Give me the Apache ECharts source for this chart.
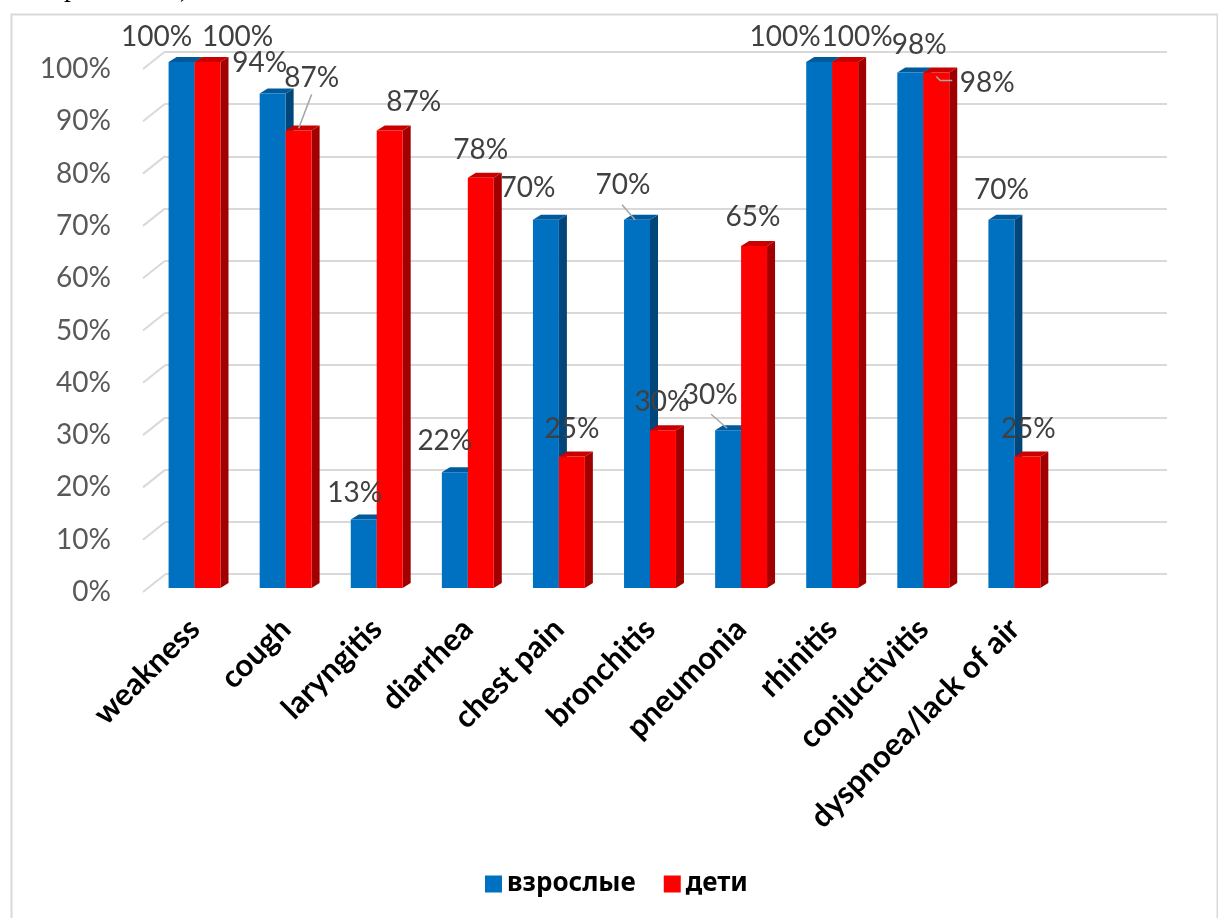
<!DOCTYPE html>
<html><head><meta charset="utf-8">
<script src="https://cdn.jsdelivr.net/npm/echarts@6/dist/echarts.min.js"></script>
<style>html,body{margin:0;padding:0;background:#fff}#c{width:1218px;height:918px}</style>
</head><body><div id="c"></div>
<script>
// ---- data ----
const categories = ['weakness','cough','laryngitis','diarrhea','chest pain','bronchitis','pneumonia','rhinitis','conjuctivitis','dyspnoea/lack of air'];
const adults   = [1.00, 0.94, 0.13, 0.22, 0.70, 0.70, 0.30, 1.00, 0.98, 0.70];
const children = [1.00, 0.87, 0.87, 0.78, 0.25, 0.30, 0.65, 1.00, 0.98, 0.25];
const seriesNames = ['взрослые', 'дети'];
const yTicks = [0, 0.1, 0.2, 0.3, 0.4, 0.5, 0.6, 0.7, 0.8, 0.9, 1.0];

// ---- label placement (style, relative to bar top centre) ----
const adultLabelNudge = [[-25,-25],[-13,-31],[-9,-27],[-10,-31],[-18,-32],[-14,-35],[-18,-35],[-34,-25],[9,-28],[0,-30]];
const childLabelNudge = [[30,-25],[13,-52],[24,-28],[0,-28],[0,-28],[-1,-28],[-1,-29],[12,-25],[51,10],[1,-28]];
const adultLeaders = {5: [[-15,-15],[-2,0]], 6: [[-17,-16],[-1,-2]]};
const childLeaders = {1: [[13,-36],[0,-2]], 8: [[0,4],[4,8],[16,8]]};

const faces = [
  {front:'#0070C0', side:'#00467a', top:'#005a9c'},
  {front:'#FF0000', side:'#a00000', top:'#c80000'}
];
const pct = v => Math.round(v * 100) + '%';
const labelFont = '28px Lato, "Noto Sans", sans-serif';

function barGeom(s, api) {
  const i = api.value(0), v = api.value(1);
  const base = api.coord([i, 0]);
  const top = api.coord([i, v]);
  const band = api.size([1, 0])[0];
  const w = band * 0.285;
  const x0 = s === 0 ? base[0] - w : base[0];
  return {x0: x0, x1: x0 + w, cx: x0 + w / 2, yT: top[1], yB: base[1]};
}

function barRenderer(s) {
  const f = faces[s];
  return function (params, api) {
    const g = barGeom(s, api);
    const dx = 8, dy = -5;
    return {type: 'group', children: [
      {type: 'polygon', shape: {points: [[g.x1, g.yB], [g.x1 + dx, g.yB + dy], [g.x1 + dx, g.yT + dy], [g.x1, g.yT]]}, style: {fill: f.side}},
      {type: 'polygon', shape: {points: [[g.x0, g.yT], [g.x0 + dx, g.yT + dy], [g.x1 + dx, g.yT + dy], [g.x1, g.yT]]}, style: {fill: f.top}},
      {type: 'rect', shape: {x: g.x0, y: g.yT, width: g.x1 - g.x0, height: g.yB - g.yT}, style: {fill: f.front}}
    ]};
  };
}

function labelRenderer(s, nudges, leaders) {
  return function (params, api) {
    const g = barGeom(s, api);
    const i = params.dataIndex;
    const n = nudges[i];
    const kids = [{
      type: 'text', x: g.cx + n[0], y: g.yT + n[1],
      style: {text: pct(api.value(1)), font: labelFont, fill: '#404040', textAlign: 'center', textVerticalAlign: 'middle'}
    }];
    if (leaders[i]) {
      kids.push({type: 'polyline', shape: {points: leaders[i].map(p => [g.cx + p[0], g.yT + p[1]])}, style: {stroke: '#a6a6a6', lineWidth: 1.5, fill: null}});
    }
    return {type: 'group', children: kids};
  };
}

const chart = echarts.init(document.getElementById('c'), null, {renderer: 'canvas'});
const catData = categories.concat(['']);
const yBase = {type: 'value', min: 0, max: 1, interval: 0.1};

chart.setOption({
  animation: false,
  backgroundColor: '#ffffff',
  color: ['#0070C0', '#FF0000'],
  graphic: [
    {type: 'rect', left: 9, top: 12, shape: {width: 1206, height: 920}, style: {fill: null, stroke: '#d9d9d9', lineWidth: 2}, z: 0},
    {type: 'text', left: 50, top: -25, style: {text: ', р', font: '28px "Liberation Serif", serif', fill: '#000'}},
    {type: 'text', left: 180, top: -25, style: {text: '),', font: '28px "Liberation Serif", serif', fill: '#000'}}
  ],
  legend: {
    data: seriesNames, left: 480, top: 866, icon: 'rect', itemWidth: 17, itemHeight: 17, itemGap: 28,
    textStyle: {fontSize: 26, fontWeight: 'bold', color: '#000', fontFamily: '"Noto Sans", Lato, sans-serif'}
  },
  grid: [
    {left: 165, right: 51, top: 52, bottom: 344},
    {left: 143, right: 51, top: 69, bottom: 326},
    {left: 149, right: 67, top: 62, bottom: 330}
  ],
  xAxis: [
    {type: 'value', gridIndex: 0, min: 0, max: 1, show: false},
    {type: 'value', gridIndex: 1, min: 0, max: 1, show: false},
    {type: 'category', gridIndex: 2, data: catData,
      axisLine: {show: false}, axisTick: {show: false},
      axisLabel: {interval: 0, rotate: 45, margin: 36, fontSize: 31, fontWeight: 'bold', color: '#000', fontFamily: 'Lato, "Noto Sans", sans-serif'}}
  ],
  yAxis: [
    Object.assign({gridIndex: 0, axisLabel: {show: false}, axisLine: {show: false}, axisTick: {show: false},
      splitLine: {show: true, lineStyle: {color: '#d9d9d9', width: 2}}}, yBase),
    Object.assign({gridIndex: 1, axisLine: {show: false}, axisTick: {show: false}, splitLine: {show: false},
      axisLabel: {formatter: pct, margin: 32, fontSize: 28, color: '#595959', fontFamily: 'Lato, "Noto Sans", sans-serif'}}, yBase),
    Object.assign({gridIndex: 2, show: false, splitLine: {show: false}}, yBase)
  ],
  series: [
    {type: 'custom', name: 'diag', xAxisIndex: 1, yAxisIndex: 1, z: 1, silent: true,
      data: yTicks.map(v => [0, v]),
      renderItem: function (params, api) {
        const p = api.coord([0, api.value(1)]);
        return {type: 'line', shape: {x1: p[0], y1: p[1], x2: p[0] + 22, y2: p[1] - 17.5}, style: {stroke: '#d9d9d9', lineWidth: 2}};
      }},
    {type: 'custom', name: seriesNames[0], xAxisIndex: 2, yAxisIndex: 2, z: 3, itemStyle: {color: '#0070C0'},
      data: adults.map((v, i) => [i, v]), renderItem: barRenderer(0)},
    {type: 'custom', name: seriesNames[1], xAxisIndex: 2, yAxisIndex: 2, z: 3, itemStyle: {color: '#FF0000'},
      data: children.map((v, i) => [i, v]), renderItem: barRenderer(1)},
    {type: 'custom', name: 'lblA', xAxisIndex: 2, yAxisIndex: 2, z: 5, silent: true,
      data: adults.map((v, i) => [i, v]), renderItem: labelRenderer(0, adultLabelNudge, adultLeaders)},
    {type: 'custom', name: 'lblB', xAxisIndex: 2, yAxisIndex: 2, z: 5, silent: true,
      data: children.map((v, i) => [i, v]), renderItem: labelRenderer(1, childLabelNudge, childLeaders)}
  ]
});
</script></body></html>
